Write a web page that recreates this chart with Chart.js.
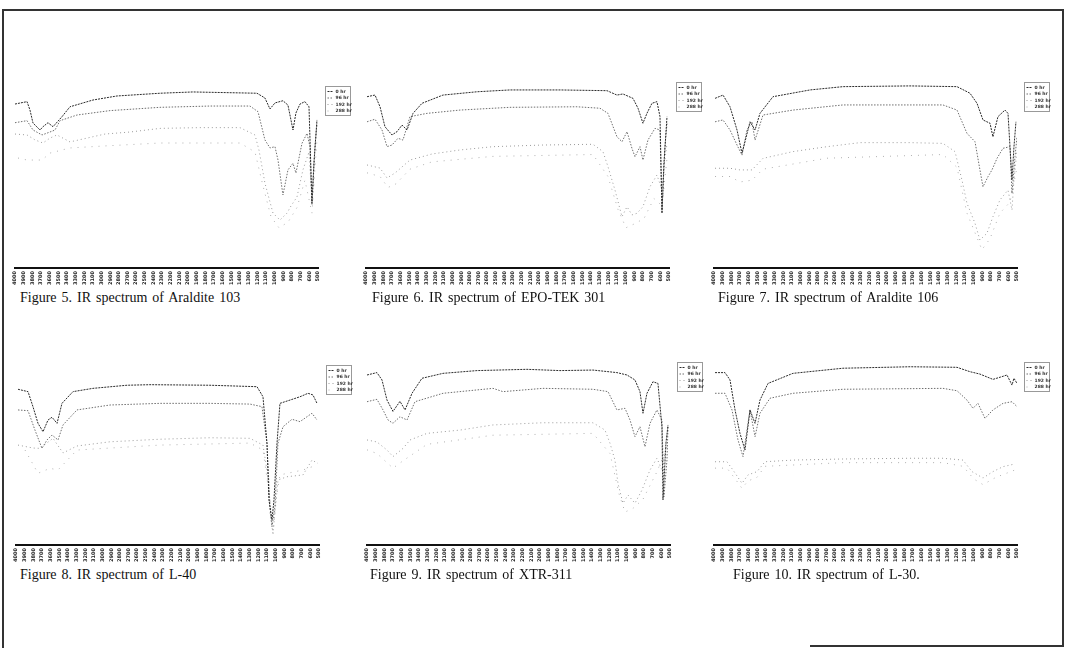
<!DOCTYPE html>
<html>
<head>
<meta charset="utf-8">
<script src="https://cdn.jsdelivr.net/npm/chart.js@4.4.0/dist/chart.umd.min.js"></script>
<style>
  html,body{margin:0;padding:0;background:#fff;}
  body{width:1067px;height:648px;position:relative;overflow:hidden;}
  canvas{position:absolute;}
  .cap{position:absolute;font-family:"Liberation Serif","DejaVu Serif",serif;font-size:14px;line-height:15px;color:#111;white-space:nowrap;word-spacing:1.5px;}
  .ln{position:absolute;background:#333;}
</style>
</head>
<body>
<div class="ln" style="left:2px;top:9px;width:1062px;height:1.5px;"></div>
<div class="ln" style="left:2px;top:9px;width:1.5px;height:639px;"></div>
<div class="ln" style="left:1062px;top:9px;width:1.5px;height:638px;"></div>
<div class="ln" style="left:810px;top:645px;width:254px;height:1.5px;"></div>
<script>
// x-axis tick labels (wavenumber, cm-1)
const tickLabels = [4000,3900,3800,3700,3600,3500,3400,3300,3200,3100,3000,2900,2800,2700,2600,2500,2400,2300,2200,2100,2000,1900,1800,1700,1600,1500,1400,1300,1200,1100,1000,900,800,700,600,500];
const seriesNames = ['0 hr','96 hr','192 hr','288 hr'];

// Figure 5 - Araldite 103  [wavenumber, %T]
const fig5_s1 = [[4000,89.6],[3861,90.9],[3827,86.3],[3792,79.2],[3711,75.4],[3677,77.2],[3619,79.4],[3561,77.2],[3457,82.7],[3365,88.1],[3099,91.8],[2822,94],[2325,95.5],[1944,96.2],[1205,95.5],[1113,92.9],[1055,86.9],[997,90.2],[905,91.4],[847,89],[789,75.4],[755,84.7],[708,89.6],[651,90.9],[604,88.1],[570,35.5],[547,57.4],[512,80.9]];
const fig5_s2 = [[4000,79.4],[3861,80.5],[3792,75.4],[3688,72.7],[3619,73.9],[3538,75.4],[3480,80.5],[3284,83.6],[2903,86],[2325,87.8],[1748,88.5],[1286,88.5],[1193,85.4],[1113,70],[1055,65.6],[997,66.3],[962,59],[905,39.9],[847,53.6],[789,57.2],[755,51.9],[685,68.1],[627,73.6],[593,66.3],[570,34.4],[535,66.3],[512,79.1]];
const fig5_s3 = [[4000,73.2],[3861,72.7],[3769,70],[3677,68.3],[3596,71],[3515,72.7],[3365,68.9],[2961,73.2],[2672,74.3],[2325,76.3],[1863,76.7],[1401,76.7],[1228,72.7],[1182,64.5],[1113,46.4],[1020,30],[939,26.2],[858,30],[812,33.9],[743,38.8],[674,53.6],[604,63.4],[570,37.2],[535,64.5],[512,78.1]];
const fig5_s4 = [[3965,60.1],[3861,59],[3688,59],[3596,62.8],[3365,65.6],[2961,66.7],[2325,68.3],[1401,68.3],[1228,63.4],[1136,45],[1043,28],[951,22],[847,25],[743,33],[651,48],[570,30],[512,70]];

// Figure 6 - EPO-TEK 301
const fig6_s1 = [[3988,93.6],[3896,94.5],[3838,88.1],[3781,77.2],[3700,72.7],[3642,74.5],[3584,78.1],[3526,75.4],[3457,84.5],[3353,90],[3111,94.5],[2718,96.3],[2337,97.3],[1759,97.3],[1216,96.9],[1101,94.5],[1032,95.1],[916,92.7],[858,87.3],[801,79.1],[755,84.5],[697,90],[639,90.9],[604,82.7],[581,29.9],[558,57.4],[523,82.7]];
const fig6_s2 = [[3988,79.9],[3896,81.3],[3815,75.4],[3757,66.3],[3700,67.2],[3630,70.9],[3573,69.9],[3492,82.7],[3296,84.5],[2914,86.3],[2337,87.8],[1563,88.1],[1297,87.3],[1205,84.5],[1101,71.7],[1043,69],[985,74.5],[928,65.4],[893,60.8],[835,66.3],[801,59],[743,69.9],[662,76.3],[604,75.4],[581,31.7],[547,66.3],[523,79.1]];
const fig6_s3 = [[3988,56.3],[3838,54.6],[3757,49.2],[3665,51.9],[3492,59],[3238,62.3],[2914,64.5],[2533,66.3],[1956,67.2],[1378,67.6],[1263,63.6],[1205,55.4],[1124,42.6],[1043,28],[985,33.5],[928,29],[870,29.9],[801,33.5],[720,44.4],[639,50.8],[581,42.6],[558,55.4],[523,68.1]];
const fig6_s4 = [[3988,52],[3838,50],[3746,44],[3653,46],[3492,54],[3238,58],[2533,61],[1378,62],[1205,50],[1089,32],[997,22],[905,24],[789,27],[674,38],[581,34],[523,60]];

// Figure 7 - Araldite 106
const fig7_s1 = [[3988,92.7],[3896,94.5],[3815,88.1],[3734,75.4],[3677,62.7],[3642,69],[3584,79.9],[3526,75.4],[3469,84.5],[3319,93.6],[2891,97.3],[2510,99.1],[1736,99.5],[1193,99.1],[1043,95.5],[962,90],[893,80.9],[812,79.1],[778,71.7],[720,82.7],[639,86.3],[604,84.5],[558,48.1],[535,66.3],[512,79.9]];
const fig7_s2 = [[3988,79.9],[3896,80.9],[3815,75.4],[3734,67.2],[3677,61.7],[3619,75.4],[3561,79.9],[3526,69.9],[3434,83.6],[3088,86.3],[2510,89.1],[1355,89.1],[1193,86.3],[1078,73.6],[985,69],[928,53.6],[893,44.4],[835,49.9],[789,53.6],[731,59.9],[662,65.4],[581,66.3],[558,40.8],[523,60.8],[500,71.7]];
const fig7_s3 = [[3988,54.5],[3815,54.5],[3700,53.6],[3561,53.6],[3434,59.9],[3088,63.6],[2695,66.3],[2314,68.5],[1736,68.5],[1355,68.1],[1216,63.6],[1136,48.1],[1078,35.4],[985,24.4],[928,15.3],[847,19],[778,28],[697,37.2],[604,42.6],[558,31.7],[535,48.1],[500,64.5]];
const fig7_s4 = [[3988,50],[3815,50],[3700,47],[3561,48],[3434,54],[2695,60],[1355,62],[1193,55],[1078,30],[974,18],[905,10],[812,16],[697,30],[581,36],[500,55]];

// Figure 8 - L-40
const fig8_s1 = [[3977,85.1],[3861,83.8],[3804,75.6],[3746,66.5],[3688,61.9],[3630,68.3],[3584,69.8],[3526,66.5],[3469,77.4],[3342,83.8],[3111,85.6],[2718,87.3],[2452,87.6],[1759,87.3],[1216,86.5],[1147,81],[1101,55.6],[1078,24.6],[1043,13.7],[1020,24.6],[985,55.6],[951,77.4],[835,79.2],[720,81],[627,82.9],[570,82],[523,77.4]];
const fig8_s2 = [[3977,73.8],[3861,73.4],[3781,62.8],[3700,52.8],[3642,57.4],[3584,60.1],[3515,57.4],[3457,65.6],[3296,73.8],[2914,76.5],[2337,77.4],[1759,77.4],[1297,77],[1159,75.6],[1101,55.6],[1066,20.9],[1043,10],[1009,20.9],[974,55.6],[916,64.6],[812,68.7],[720,67.4],[581,72],[523,68.3]];
const fig8_s3 = [[3977,54.6],[3804,53],[3723,52.8],[3573,58.3],[3457,50.3],[3296,54.1],[2914,56.4],[2337,57.8],[1759,58.6],[1297,58.3],[1147,54.6],[1089,37.3],[1066,17.3],[1032,6.4],[1009,17.3],[974,35.5],[870,37.3],[685,38.3],[581,46.4],[512,44.6]];
const fig8_s4 = [[3896,51.9],[3746,39.2],[3607,41.9],[3515,41],[3296,51.9],[2337,54.6],[1297,55.7],[1147,51.9],[1066,24.6],[1032,5.5],[997,24.6],[951,38.3],[685,41],[523,43.7]];

// Figure 9 - XTR-311
const fig9_s1 = [[4000,92.9],[3885,94.2],[3827,90.2],[3769,79.2],[3700,73],[3619,78.5],[3561,73.8],[3480,82.9],[3365,91.1],[3122,93.8],[2730,95.3],[2152,96],[1771,95.3],[1390,95.6],[1113,94.2],[997,92.9],[905,90.2],[847,83.8],[812,72],[766,82.9],[697,89.2],[639,88.3],[593,64.6],[581,24.6],[547,55.6],[523,65.6]];
const fig9_s2 = [[4000,78.3],[3885,79.6],[3815,73.8],[3757,68.3],[3700,66.5],[3619,70.1],[3538,68.3],[3446,78.3],[3122,82.9],[2545,85.6],[2429,83.8],[1967,85.6],[1390,85.1],[1216,83.8],[1113,73.8],[1020,74.7],[962,68.3],[905,59.2],[847,64.6],[789,53.7],[731,66.5],[651,73.8],[593,68.3],[570,26.4],[535,46.4],[523,64.6]];
const fig9_s3 = [[4000,57.4],[3885,56.3],[3769,51.9],[3700,48.3],[3584,52.8],[3503,57.4],[3307,61],[2926,62.8],[2545,65.6],[1967,66.8],[1390,66.8],[1251,62.8],[1193,55.6],[1136,46.4],[1101,33.7],[1043,22.8],[985,27.3],[905,22.8],[824,30],[731,41],[651,47.4],[593,41],[558,50.1],[523,64.6]];
const fig9_s4 = [[4000,52],[3885,50],[3700,42],[3584,46],[3307,55],[2545,60],[1390,61],[1193,50],[1089,28],[1020,18],[928,20],[812,25],[651,40],[523,55]];

// Figure 10 - L-30
const fig10_s1 = [[3988,94.2],[3873,94.2],[3815,90.2],[3757,73.8],[3700,61],[3642,51.9],[3584,73.8],[3526,66.5],[3469,79.2],[3376,88.3],[3088,93.8],[2510,96.6],[1736,97.4],[1193,97.1],[1043,94.7],[928,93.4],[778,90.5],[674,92],[616,92.9],[558,87.4],[535,91.1],[500,88.3]];
const fig10_s2 = [[3988,82.9],[3873,82.9],[3792,73.8],[3723,57.4],[3665,48.3],[3584,73.8],[3526,59.2],[3469,72],[3353,80.2],[3088,82.9],[2510,85.1],[1355,85.6],[1193,84.3],[1078,79.2],[1009,74.7],[951,77.4],[870,69.2],[778,73.8],[662,77.4],[558,78.3],[500,75.6]];
const fig10_s3 = [[3988,45.5],[3850,45.5],[3781,41],[3677,33.7],[3607,38.3],[3503,40.1],[3411,45.5],[3088,46.4],[2510,47],[1736,47.4],[1355,47.4],[1124,46.4],[1020,40.1],[893,36.6],[778,40.1],[662,42.8],[523,44.3]];
const fig10_s4 = [[3988,42],[3850,42],[3769,37],[3677,31],[3607,35],[3503,37],[3411,43],[2510,45],[1355,45],[1124,43],[997,36],[893,33],[743,37],[523,41]];

const lineStyles = [
  {color:'#2a2a2a', dash:[2,1]},
  {color:'#6e6e6e', dash:[1.5,1.5]},
  {color:'#9a9a9a', dash:[1,3]},
  {color:'#b0b0b0', dash:[1,6]}
];

const panels = [
  {left:5,   top:75,  series:[fig5_s1,fig5_s2,fig5_s3,fig5_s4],   dy:1,  caption:'Figure 5. IR spectrum of Araldite 103', capX:20,  capY:290},
  {left:356, top:75,  series:[fig6_s1,fig6_s2,fig6_s3,fig6_s4],   dy:-3, caption:'Figure 6. IR spectrum of EPO-TEK 301',  capX:372, capY:290},
  {left:704, top:75,  series:[fig7_s1,fig7_s2,fig7_s3,fig7_s4],   dy:-3, caption:'Figure 7. IR spectrum of Araldite 106', capX:718, capY:290},
  {left:6,   top:352, series:[fig8_s1,fig8_s2,fig8_s3,fig8_s4],   dy:3,  caption:'Figure 8. IR spectrum of L-40',         capX:20,  capY:567},
  {left:357, top:352, series:[fig9_s1,fig9_s2,fig9_s3,fig9_s4],   dy:0,  caption:'Figure 9. IR spectrum of XTR-311',      capX:370, capY:567},
  {left:704, top:352, series:[fig10_s1,fig10_s2,fig10_s3,fig10_s4],dy:0, caption:'Figure 10. IR spectrum of L-30.',       capX:733, capY:567}
];

const legendBox = {
  id:'legendBox',
  afterDraw(chart, args, opts){
    const ctx = chart.ctx, ca = chart.chartArea;
    const x0 = Math.round(ca.right + 7) + 0.5, y0 = Math.round(ca.top + (opts.dy||0)) + 0.5;
    const w = 25, h = 29;
    ctx.save();
    ctx.lineWidth = 1;
    ctx.setLineDash([1,1]);
    ctx.strokeStyle = '#333';
    ctx.strokeRect(x0, y0, w, h);
    chart.data.datasets.forEach((ds, i) => {
      const yy = y0 + 5 + i*6.5;
      ctx.setLineDash(ds.borderDash || []);
      ctx.strokeStyle = ds.borderColor;
      ctx.beginPath(); ctx.moveTo(x0+2, yy); ctx.lineTo(x0+8, yy); ctx.stroke();
      ctx.setLineDash([]);
      ctx.fillStyle = '#333';
      ctx.font = 'bold 4.5px "DejaVu Sans"';
      ctx.textBaseline = 'middle';
      ctx.fillText(ds.label, x0+10, yy);
    });
    ctx.restore();
  }
};

panels.forEach(p => {
  const cv = document.createElement('canvas');
  cv.width = 358; cv.height = 215;
  cv.style.left = p.left + 'px'; cv.style.top = p.top + 'px';
  cv.style.width = '358px'; cv.style.height = '215px';
  document.body.appendChild(cv);
  const cap = document.createElement('div');
  cap.className = 'cap';
  cap.style.left = p.capX + 'px'; cap.style.top = p.capY + 'px';
  cap.textContent = p.caption;
  document.body.appendChild(cap);

  new Chart(cv.getContext('2d'), {
    type:'line',
    data:{
      datasets: p.series.map((s, i) => ({
        label: seriesNames[i],
        data: s.map(pt => ({x:pt[0], y:pt[1]})),
        borderColor: lineStyles[i].color,
        borderDash: lineStyles[i].dash,
        borderWidth: 1,
        pointRadius: 0,
        fill: false,
        tension: 0
      }))
    },
    options:{
      responsive:false, animation:false, devicePixelRatio:1,
      layout:{padding:{left:10, right:45, top:10, bottom:0}},
      plugins:{legend:{display:false}, tooltip:{enabled:false}, legendBox:{dy:p.dy}},
      scales:{
        x:{
          type:'linear', reverse:true, min:500, max:4000,
          afterBuildTicks: sc => { sc.ticks = tickLabels.map(v => ({value:v})); },
          afterFit: sc => { sc.height = 22; },
          grid:{display:false, drawTicks:false},
          border:{display:true, color:'#111', width:2},
          ticks:{autoSkip:false, minRotation:90, maxRotation:90, padding:3, color:'#222',
                 font:{size:5, weight:'bold', family:'DejaVu Sans'},
                 callback: v => String(v)}
        },
        y:{display:false, min:0, max:100}
      }
    },
    plugins:[legendBox]
  });
});
</script>
</body>
</html>
